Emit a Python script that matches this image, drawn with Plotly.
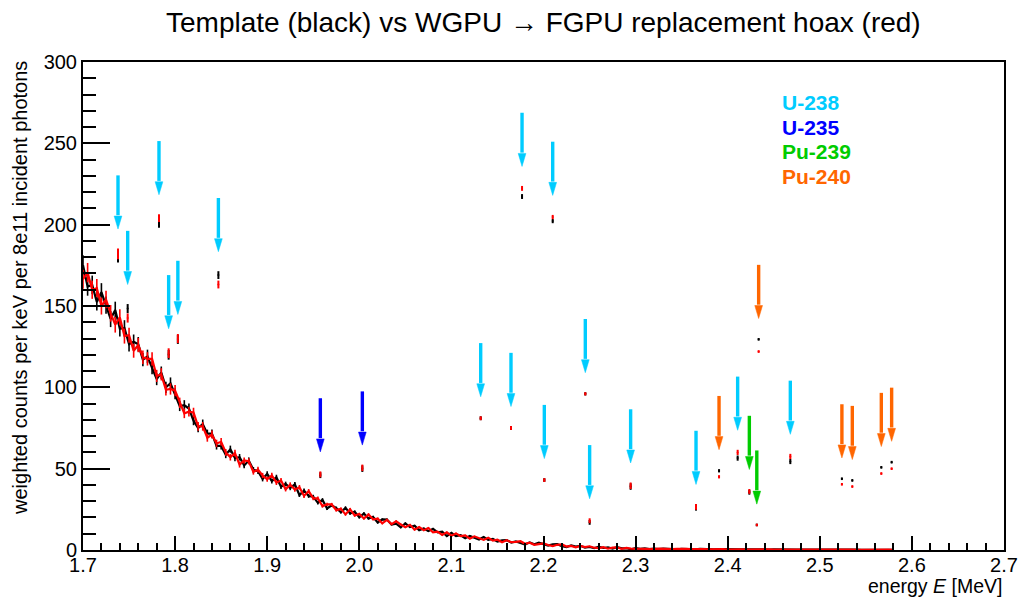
import plotly.graph_objects as go

# ---------------- data ----------------
E_START = 1.700      # MeV, first continuum sample
E_STEP = 0.005       # MeV, sample spacing

# Template (black) continuum, weighted counts per keV
black_counts = [
    175, 162, 163, 152.5, 158.5, 150.5, 142, 147.5, 136, 136.5,
    126.5, 128, 126.5, 117, 119, 112, 105, 109, 100, 102.5,
    96, 88.5, 89, 87, 79.5, 75, 77.5, 71.5, 71.5, 64,
    64, 58.5, 62, 56.5, 57, 52, 55, 49.3, 48.4, 43.7,
    46.8, 42.3, 44.7, 38.9, 40.6, 38.1, 40.4, 33.8, 36.5, 33.2,
    32.8, 29, 30.8, 25.5, 27.5, 25.8, 23.2, 25.9, 22.5, 23.5,
    20.1, 22.4, 19.4, 20.3, 16.9, 18.8, 18.7, 15.7, 16.2, 13.9,
    16.4, 14.1, 14.9, 12.2, 13.2, 11.6, 13, 10.8, 11.2, 8.5,
    10.5, 8.5, 9.1, 7.3, 8.7, 7.7, 6.5, 8.0, 6.2, 6.8,
    5.2, 5.9, 6.1, 4.5, 5.3, 4.3, 3.4, 4.7, 3.5, 4.5,
    3.75, 2.75, 3.5, 3.6, 2.4, 1.85, 2.85, 2.1, 2.6, 1.5,
    1.9, 1.1, 2.05, 1.25, 1.6, 0.9, 1.7, 1.0, 1.05, 0.45,
    1.1, 0.7, 0.95, 0.6, 0.85, 0.55, 0.8, 0.6, 0.7, 0.45,
    0.75, 0.5, 0.6, 0.4, 0.65, 0.45, 0.55, 0.35, 0.5, 0.4,
    0.5, 0.3, 0.45, 0.35, 0.4, 0.3, 0.45, 0.25, 0.4, 0.3,
    0.35, 0.25, 0.35, 0.2, 0.3, 0.25, 0.3, 0.2, 0.28, 0.18,
    0.27, 0.2, 0.25, 0.17, 0.24, 0.18, 0.22, 0.15, 0.22, 0.16,
    0.2, 0.14, 0.2, 0.13, 0.18, 0.14, 0.16,
]

# Replacement hoax (red) continuum
red_counts = [
    166.5, 170.5, 160, 161, 150, 154, 145.5, 138.5, 143, 131.5,
    132, 122.5, 126, 118.5, 117.5, 117.5, 107, 108, 98.5, 99,
    98, 90.5, 84, 85, 84.5, 76, 76, 69, 71, 65.5,
    66.5, 60, 57, 59.5, 52.5, 55, 54.5, 48, 49.4, 45.8,
    43.5, 45.9, 41.4, 42.8, 37.3, 40.2, 37.1, 38.6, 33.2, 36.2,
    31.7, 31.8, 27, 28, 28, 24.5, 25.3, 21.9, 25, 21.2,
    22.1, 19.4, 21.8, 18.9, 19.3, 16.4, 18.5, 15.9, 17.6, 15.7,
    14, 15.5, 12.5, 14.1, 12.2, 13.5, 10.9, 11.3, 9.3, 10.9,
    8.8, 10.2, 8.5, 9.0, 7.0, 8.4, 7.2, 6.2, 7.6, 5.8,
    6.3, 4.8, 6.0, 4.8, 5.0, 5.4, 3.8, 4.5, 3.2, 3.8,
    4.05, 3.05, 2.45, 3.2, 3.4, 2.1, 2.5, 1.65, 2.55, 1.8,
    2.3, 1.4, 1.2, 1.75, 0.8, 1.45, 1.55, 0.75, 1.25, 0.85,
    0.75, 1.0, 0.65, 0.9, 0.6, 0.8, 0.55, 0.75, 0.5, 0.7,
    0.45, 0.65, 0.5, 0.6, 0.4, 0.55, 0.4, 0.5, 0.35, 0.5,
    0.3, 0.45, 0.35, 0.4, 0.3, 0.4, 0.28, 0.38, 0.25, 0.35,
    0.25, 0.32, 0.22, 0.3, 0.22, 0.28, 0.2, 0.27, 0.2, 0.25,
    0.18, 0.24, 0.17, 0.23, 0.16, 0.22, 0.15, 0.21, 0.15, 0.2,
    0.14, 0.19, 0.13, 0.18, 0.13, 0.17, 0.12,
]

# Isolated line (peak) bins
peak_energy = [1.7380, 1.7485, 1.7825, 1.7930, 1.8030, 1.8470, 1.9577, 2.0033,
               2.1318, 2.1647, 2.1767, 2.2009, 2.2100, 2.2454, 2.2501, 2.2946,
               2.3656, 2.3906, 2.4108, 2.4235, 2.4316, 2.4336, 2.4680, 2.5240,
               2.5353, 2.5668, 2.5780]
peak_black = [180.0, 148.4, 200.5, 120.0, 129.5, 169.0, 46.0, 50.0,
              81.0, 75.0, 217.3, 43.0, 202.2, 96.0, 17.0, 39.0,
              26.0, 48.7, 56.5, 35.5, 15.4, 129.5, 54.4, 43.8,
              42.8, 50.8, 54.0]
peak_red = [182.0, 142.6, 204.0, 121.0, 130.0, 163.2, 46.5, 50.5,
            81.0, 75.0, 222.3, 43.0, 204.7, 96.0, 18.0, 39.5,
            26.5, 45.0, 60.0, 36.0, 15.4, 122.0, 57.5, 40.4,
            39.0, 47.0, 50.0]
peak_err = [3.3, 2.8, 2.4, 3.0, 2.8, 2.4, 1.8, 2.0,
            1.2, 1.2, 1.5, 1.2, 1.3, 1.0, 1.5, 2.0,
            1.8, 1.0, 1.6, 1.5, 0.8, 0.8, 1.6, 0.8,
            0.8, 0.8, 0.8]
peak_isotope = ["U-238", "U-238", "U-238", "U-238", "U-238", "U-238", "U-235", "U-235",
                "U-238", "U-238", "U-238", "U-238", "U-238", "U-238", "U-238", "U-238",
                "U-238", "Pu-240", "U-238", "Pu-239", "Pu-239", "Pu-240", "U-238", "Pu-240",
                "Pu-240", "Pu-240", "Pu-240"]

isotopes = ["U-238", "U-235", "Pu-239", "Pu-240"]
isotope_colors = ["#00CCFF", "#0000FF", "#00CC00", "#FF6600"]

x_ticks = [1.7, 1.8, 1.9, 2.0, 2.1, 2.2, 2.3, 2.4, 2.5, 2.6, 2.7]
y_ticks = [0, 50, 100, 150, 200, 250, 300]

# ---------------- figure ----------------
FONT = "Liberation Sans, Arial, Helvetica, sans-serif"
color_of = dict(zip(isotopes, isotope_colors))

energies_black = [round(E_START + E_STEP * i, 4) for i in range(len(black_counts))]
energies_red = [round(E_START + E_STEP * i, 4) for i in range(len(red_counts))]

CONT_ERR = dict(type="percent", value=3.5, thickness=1.6, width=0)

fig = go.Figure()

fig.add_trace(go.Scatter(x=energies_black, y=black_counts, mode="lines",
                         line=dict(color="black", width=2.2),
                         error_y=dict(CONT_ERR, color="black"),
                         showlegend=False, hoverinfo="skip"))
fig.add_trace(go.Scatter(x=peak_energy, y=peak_black, mode="markers",
                         marker=dict(color="black", size=2),
                         error_y=dict(type="data", array=peak_err, color="black",
                                      thickness=2, width=0),
                         showlegend=False, hoverinfo="skip"))
fig.add_trace(go.Scatter(x=energies_red, y=red_counts, mode="lines",
                         line=dict(color="red", width=2.2),
                         error_y=dict(CONT_ERR, color="red"),
                         showlegend=False, hoverinfo="skip"))
fig.add_trace(go.Scatter(x=peak_energy, y=peak_red, mode="markers",
                         marker=dict(color="red", size=2),
                         error_y=dict(type="data", array=peak_err, color="red",
                                      thickness=2, width=0),
                         showlegend=False, hoverinfo="skip"))

# arrows above each line bin (geometry in data units)
ARROW_GAP = 12.0
HEAD_LEN = 8.0
ARROW_LEN = 33.0
HEAD_HALF_W = 0.0042
shapes = []
for e, b, r, err, iso in zip(peak_energy, peak_black, peak_red, peak_err, peak_isotope):
    c = color_of[iso]
    tip = max(b, r) + err + ARROW_GAP
    neck = tip + HEAD_LEN
    tail = tip + ARROW_LEN
    shapes.append(dict(type="line", xref="x", yref="y", x0=e, x1=e, y0=neck + 0.5, y1=tail,
                       line=dict(color=c, width=3.4)))
    shapes.append(dict(type="path", xref="x", yref="y",
                       path=f"M {e - HEAD_HALF_W},{neck} L {e + HEAD_HALF_W},{neck} L {e},{tip} Z",
                       fillcolor=c, line=dict(color=c, width=0.5)))

annotations = []
for i, (iso, c) in enumerate(zip(isotopes, isotope_colors)):
    annotations.append(dict(text=f"<b>{iso}</b>", x=0.757, y=0.918 - 0.0512 * i,
                            xref="paper", yref="paper", xanchor="left", yanchor="middle",
                            showarrow=False, font=dict(family=FONT, size=21, color=c)))

annotations.append(dict(text="weighted counts per keV per 8e11 incident photons",
                        x=-0.0684, y=0.537, xref="paper", yref="paper", textangle=-90,
                        xanchor="center", yanchor="middle", showarrow=False,
                        font=dict(family=FONT, size=20, color="black")))
annotations.append(dict(text="energy <i>E</i> [MeV]", x=1.0, y=-0.0740,
                        xref="paper", yref="paper", xanchor="right", yanchor="middle",
                        showarrow=False, font=dict(family=FONT, size=19.5, color="black")))

fig.update_layout(
    width=1021, height=597, autosize=False,
    margin=dict(l=83, r=17, t=62, b=47, autoexpand=False),
    paper_bgcolor="white", plot_bgcolor="white",
    font=dict(family=FONT, color="black"),
    title=dict(text="Template (black) vs WGPU \u2192 FGPU replacement hoax (red)",
               x=0.5322, xanchor="center", y=0.963, yanchor="middle", yref="container",
               automargin=False,
               font=dict(family=FONT, size=28, color="black")),
    shapes=shapes,
    annotations=annotations,
    showlegend=False,
)

fig.update_xaxes(range=[1.7, 2.7], tickvals=x_ticks, ticktext=[f"{v:.1f}" for v in x_ticks],
                 ticks="inside", ticklen=14, tickwidth=1.5, tickcolor="black",
                 minor=dict(dtick=0.02, tick0=1.7, ticks="inside", ticklen=7,
                            tickwidth=1.5, tickcolor="black"),
                 showline=True, linewidth=2, linecolor="black", mirror=True,
                 showgrid=False, zeroline=False, automargin=False,
                 ticklabelstandoff=-4,
                 tickfont=dict(family=FONT, size=20, color="black"))
fig.update_yaxes(range=[0, 300], tickvals=y_ticks,
                 ticks="inside", ticklen=27, tickwidth=1.5, tickcolor="black",
                 minor=dict(dtick=10, tick0=0, ticks="inside", ticklen=13,
                            tickwidth=1.5, tickcolor="black"),
                 showline=True, linewidth=2, linecolor="black", mirror=True,
                 showgrid=False, zeroline=False, automargin=False,
                 tickfont=dict(family=FONT, size=20, color="black"))

fig.write_html("out.html", config={"displayModeBar": False},
               post_script="document.body.style.margin='0';")
